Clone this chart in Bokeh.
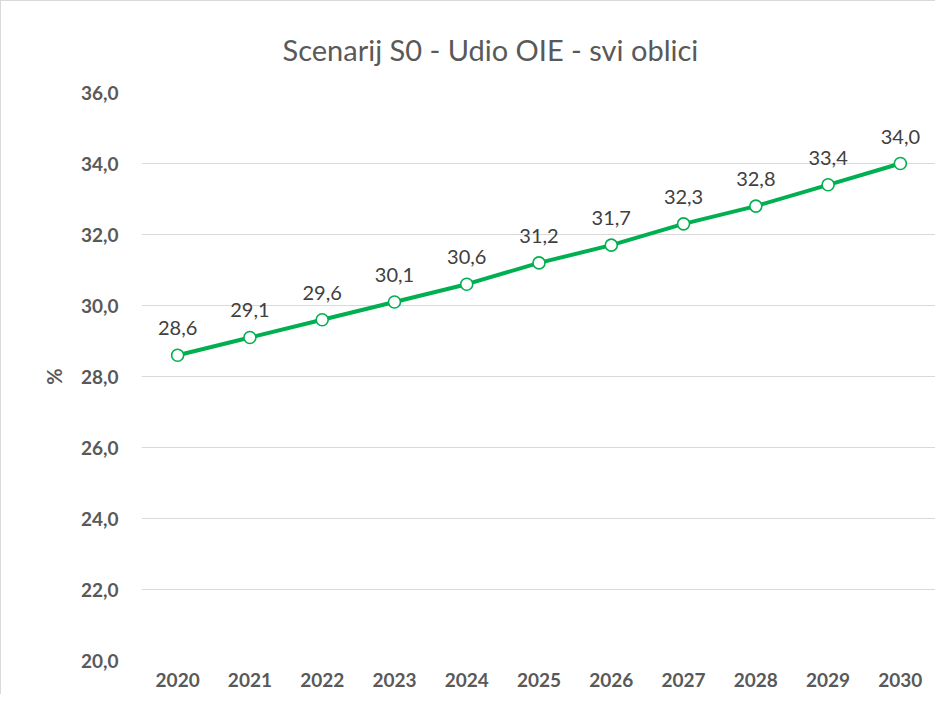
from bokeh.plotting import figure
from bokeh.models import ColumnDataSource, FixedTicker, CustomJSTickFormatter, Range1d, FactorRange
from bokeh.core.properties import value
from bokeh.embed import file_html
from bokeh.resources import INLINE

years = ["2020", "2021", "2022", "2023", "2024", "2025", "2026", "2027", "2028", "2029", "2030"]
share = [28.6, 29.1, 29.6, 30.1, 30.6, 31.2, 31.7, 32.3, 32.8, 33.4, 34.0]
y_ticks = [20, 22, 24, 26, 28, 30, 32, 34, 36]
title_text = "Scenarij S0 - Udio OIE - svi oblici"
y_label = "%"

labels = [f"{v:.1f}".replace(".", ",") for v in share]
src = ColumnDataSource(data=dict(year=years, share=share, label=labels))

FONT = "Lato"
GREEN = "#00b050"

p = figure(width=935, height=694,
           x_range=FactorRange(*years, range_padding=0),
           y_range=Range1d(20, 36),
           output_backend="svg", toolbar_location=None,
           min_border_left=140, min_border_right=0,
           min_border_top=91, min_border_bottom=35,
           title=title_text)
p.styles = {"border-left": "1px solid #d9d9d9", "border-top": "1px solid #d9d9d9"}

p.outline_line_color = None
p.background_fill_color = "white"
p.border_fill_color = "white"

p.title.text_font = FONT
p.title.text_font_size = "29px"
p.title.text_font_style = "normal"
p.title.text_color = "#595959"
p.title.align = "left"
p.title.offset = 141
p.title.standoff = 51

p.xgrid.visible = False
p.ygrid.grid_line_color = "#d9d9d9"
p.ygrid.grid_line_width = 1
p.yaxis.ticker = FixedTicker(ticks=y_ticks)
p.yaxis.formatter = CustomJSTickFormatter(code="return tick.toFixed(1).replace('.', ',');")

for ax in (p.xaxis, p.yaxis):
    ax.axis_line_color = None
    ax.major_tick_line_color = None
    ax.minor_tick_line_color = None
    ax.major_tick_out = 0
    ax.major_tick_in = 0
    ax.minor_tick_out = 0
    ax.major_label_text_font = FONT
    ax.major_label_text_font_size = "19px"
    ax.major_label_text_font_style = "bold"
    ax.major_label_text_color = "#595959"

p.xaxis.major_label_standoff = 12
p.yaxis.major_label_standoff = 23
p.yaxis.axis_label = y_label
p.yaxis.axis_label_text_font = FONT
p.yaxis.axis_label_text_font_size = "20px"
p.yaxis.axis_label_text_font_style = "bold"
p.yaxis.axis_label_text_color = "#595959"
p.yaxis.axis_label_standoff = 12

p.line(x="year", y="share", source=src, line_color=GREEN, line_width=4)
p.scatter(x="year", y="share", source=src, size=12, fill_color="white",
          line_color=GREEN, line_width=1.6)
p.text(x="year", y="share", text="label", source=src, text_align="center",
       text_baseline="alphabetic", y_offset=-27, text_font=value(FONT),
       text_font_size="20px", text_color="#404040")

open("out.html", "w").write(file_html(p, INLINE))
